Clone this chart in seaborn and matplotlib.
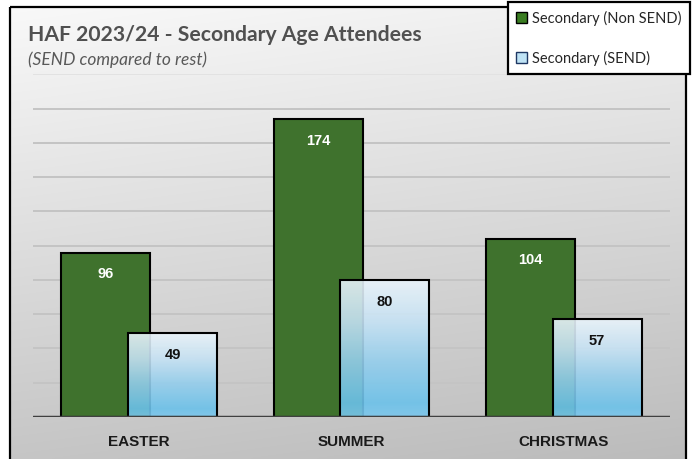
import numpy as np
import pandas as pd
import matplotlib
matplotlib.use("Agg")
import matplotlib.pyplot as plt
import seaborn as sns
from matplotlib.patches import Rectangle, Patch

# ---- data ----
seasons = ["EASTER", "SUMMER", "CHRISTMAS"]
non_send = [96, 174, 104]
send = [49, 80, 57]
groups = ["Secondary (Non SEND)", "Secondary (SEND)"]
y_ticks = [0, 20, 40, 60, 80, 100, 120, 140, 160, 180, 200]

df = pd.DataFrame({
    "season": seasons * 2,
    "count": non_send + send,
    "group": [groups[0]] * len(seasons) + [groups[1]] * len(seasons),
})

sns.set_theme(style="white")
plt.rcParams["font.family"] = ["Liberation Sans", "DejaVu Sans"]

W, H = 694, 459
fig = plt.figure(figsize=(W / 100, H / 100), dpi=100)
fig.patch.set_facecolor("white")

# ---- background gradient and frame ----
bg = fig.add_axes([0, 0, 1, 1], zorder=-10)
bg.set_axis_off()
yy, xx = np.mgrid[0:1:200j, 0:1:300j]
val = 0.975 - 0.20 * yy - 0.04 * xx
bg.imshow(np.dstack([val, val, val]), extent=[10, 686, H, 7], aspect="auto",
          interpolation="bilinear")
bg.set_xlim(0, W)
bg.set_ylim(H, 0)
bg.add_patch(Rectangle((10, 7), 676, H + 10, fill=False, edgecolor="black",
                       linewidth=1.6))

# ---- main axes ----
base_px, top_px = 417, 417 - 200 * (417 - 119) / 174
ax = fig.add_axes([33 / W, (H - base_px) / H, (670 - 33) / W, (base_px - top_px) / H])
ax.set_facecolor("none")

green = "#3a7d22"
blue = "#7cc6ea"
sns.barplot(data=df, x="season", y="count", hue="group", hue_order=groups,
            order=seasons, palette={groups[0]: green, groups[1]: blue},
            width=0.628, dodge=True, edgecolor="black", linewidth=1.5,
            legend=False, ax=ax, zorder=2)

bar_w = 0.418
for cont in ax.containers:
    for p in cont:
        c = p.get_x() + p.get_width() / 2
        p.set_x(c - bar_w / 2)
        p.set_width(bar_w)

# gradient for SEND bars
grad_cols = np.array([
    [0.92, 0.96, 0.985],
    [0.78, 0.89, 0.96],
    [0.58, 0.81, 0.93],
    [0.42, 0.76, 0.92],
    [0.48, 0.78, 0.93],
])
pos = np.array([0.0, 0.3, 0.6, 0.9, 1.0])
t = np.linspace(0, 1, 256)
grad = np.stack([np.interp(t, pos, grad_cols[:, k]) for k in range(3)], axis=-1)
grad = grad[:, None, :]

green_cont, blue_cont = ax.containers[0], ax.containers[1]
for p in green_cont:
    p.set_zorder(2)
for p in blue_cont:
    x0, w, h = p.get_x(), p.get_width(), p.get_height()
    im = ax.imshow(grad, extent=[x0, x0 + w, 0, h], aspect="auto", origin="upper",
                   zorder=2.5, alpha=0.9, interpolation="bilinear")
    im.set_clip_path(p)
    p.set_facecolor("none")
    p.set_zorder(3)

ax.set_xlim(-0.5, 2.5)
ax.set_ylim(0, 200)

# gridlines
for v in y_ticks[1:]:
    ax.axhline(v, color="#c4c4c4" if v < 200 else "#e2e2e2", linewidth=1.4, zorder=1)
ax.axhline(0, color="#404040", linewidth=2.5, zorder=4)

for s in ax.spines.values():
    s.set_visible(False)
ax.set_yticks([])
ax.set_xlabel("")
ax.set_ylabel("")
ax.tick_params(axis="x", length=0, pad=13)
ax.set_xticks(range(len(seasons)))
ax.set_xticklabels(seasons, fontsize=11, fontweight="bold", color="#1a1a1a")

# value labels
for cont, col in ((green_cont, "white"), (blue_cont, "#111111")):
    for p in cont:
        ax.annotate(f"{int(round(p.get_height()))}",
                    xy=(p.get_x() + p.get_width() / 2, p.get_height()),
                    xytext=(0, -15.5), textcoords="offset points",
                    ha="center", va="center", fontsize=10.5, fontweight="bold",
                    color=col, zorder=5)

# title & subtitle
fig.text(28 / W, 1 - 35 / H, "HAF 2023/24 - Secondary Age Attendees",
         fontsize=15.2, fontweight="bold", color="#505050", va="center",
         family=["Lato", "DejaVu Sans"])
fig.text(28 / W, 1 - 60 / H, "(SEND compared to rest)",
         fontsize=12.5, style="italic", color="#595959", va="center",
         family=["Lato", "DejaVu Sans"])

# legend
handles = [Patch(facecolor=green, edgecolor="black", linewidth=1.0),
           Patch(facecolor="#bfe3f5", edgecolor="#1f3864", linewidth=1.0)]
leg = fig.legend(handles, groups, loc="upper right",
                 bbox_to_anchor=(690 / W, 1 - 2 / H), borderaxespad=0,
                 frameon=True, fancybox=False, edgecolor="black",
                 facecolor="white", framealpha=1,
                 handlelength=0.75, handleheight=0.75, handletextpad=0.3,
                 labelspacing=1.7, borderpad=0.6,
                 prop={"family": ["Lato", "DejaVu Sans"], "size": 10.5})
leg.get_frame().set_linewidth(1.6)

fig.savefig("out.png", dpi=100)
